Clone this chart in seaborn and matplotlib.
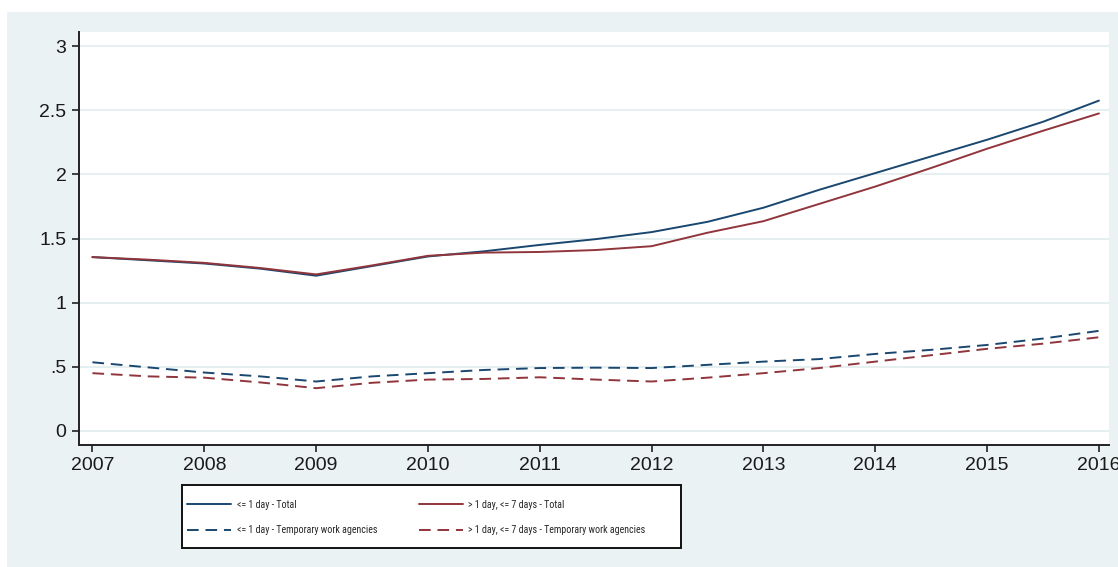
import matplotlib
matplotlib.use("Agg")
import matplotlib.pyplot as plt
from matplotlib import font_manager
from matplotlib.patches import Rectangle
import numpy as np
import pandas as pd
import seaborn as sns

# Half-yearly observation points
period = [2007.0, 2007.5, 2008.0, 2008.5, 2009.0, 2009.5, 2010.0, 2010.5, 2011.0, 2011.5,
          2012.0, 2012.5, 2013.0, 2013.5, 2014.0, 2014.5, 2015.0, 2015.5, 2016.0]

le1_total = [1.355, 1.33, 1.305, 1.265, 1.21, 1.285, 1.36, 1.40, 1.45, 1.495,
             1.55, 1.63, 1.74, 1.88, 2.01, 2.14, 2.27, 2.41, 2.575]
gt1_le7_total = [1.355, 1.335, 1.31, 1.27, 1.22, 1.29, 1.365, 1.39, 1.395, 1.41,
                 1.44, 1.545, 1.635, 1.77, 1.905, 2.05, 2.20, 2.34, 2.475]
le1_twa = [0.535, 0.495, 0.455, 0.425, 0.385, 0.425, 0.45, 0.475, 0.49, 0.493,
           0.49, 0.515, 0.54, 0.56, 0.60, 0.632, 0.67, 0.72, 0.78]
gt1_le7_twa = [0.45, 0.425, 0.415, 0.378, 0.333, 0.375, 0.40, 0.405, 0.418, 0.40,
               0.385, 0.415, 0.45, 0.49, 0.54, 0.59, 0.64, 0.68, 0.73]

series_labels = [
    "<= 1 day - Total",
    "<= 1 day - Temporary work agencies",
    "> 1 day, <= 7 days - Total",
    "> 1 day, <= 7 days - Temporary work agencies",
]
series_values = [le1_total, le1_twa, gt1_le7_total, gt1_le7_twa]

y_ticks = [0, 0.5, 1, 1.5, 2, 2.5, 3]
y_tick_labels = ["0", ".5", "1", "1.5", "2", "2.5", "3"]
x_ticks = list(range(2007, 2017))

NAVY = "#1A476F"
MAROON = "#90353B"
BG = "#EAF2F3"

frames = [pd.DataFrame({"year": period, "value": vals, "series": lab})
          for lab, vals in zip(series_labels, series_values)]
df = pd.concat(frames, ignore_index=True)

palette = {series_labels[0]: NAVY, series_labels[1]: NAVY,
           series_labels[2]: MAROON, series_labels[3]: MAROON}
dashes = {series_labels[0]: "", series_labels[1]: (6, 3.5),
          series_labels[2]: "", series_labels[3]: (6, 3.5)}

sns.set_style("ticks")
plt.rcParams["font.family"] = ["Liberation Sans", "DejaVu Sans"]

# Prefer a condensed face for the legend when one is installed
narrow = None
for f in font_manager.fontManager.ttflist:
    n = f.name.lower()
    if ("narrow" in n or "condensed" in n) and f.weight in (400, "normal", "regular") \
            and f.style == "normal":
        narrow = f.fname
        if "liberation" in n or "arial" in n:
            break
if narrow is not None:
    legend_prop = font_manager.FontProperties(fname=narrow, size=10)
else:
    legend_prop = font_manager.FontProperties(family="Liberation Sans", size=10)

W, H = 1118, 567
fig = plt.figure(figsize=(W / 100, H / 100), dpi=100, facecolor="white")
fig.patches.append(Rectangle((7 / W, 0), 1, (H - 12) / H, transform=fig.transFigure,
                             facecolor=BG, edgecolor="none", zorder=-10))

ax = fig.add_axes([79 / W, (H - 445) / H, (1109 - 79) / W, (445 - 32) / H])
ax.set_facecolor("white")

sns.lineplot(data=df, x="year", y="value", hue="series", style="series",
             hue_order=series_labels, style_order=series_labels,
             palette=palette, dashes=dashes, linewidth=1.4, ax=ax)

ax.set_xlim(2006.88, 2016.09)
ax.set_ylim(-0.11, 3.11)
ax.set_xticks(x_ticks)
ax.set_xticklabels([str(t) for t in x_ticks])
ax.set_yticks(y_ticks)
ax.set_yticklabels(y_tick_labels)
ax.set_xlabel("")
ax.set_ylabel("")

ax.grid(axis="y", color="#E4EEEF", linewidth=1.3)
ax.set_axisbelow(True)
for side in ("top", "right"):
    ax.spines[side].set_visible(False)
for side in ("left", "bottom"):
    ax.spines[side].set_color("#222222")
    ax.spines[side].set_linewidth(1.4)
ax.tick_params(axis="both", direction="out", length=5, width=1.2, color="#222222",
               labelsize=14, labelcolor="#1a1a1a", pad=4)

handles, labels = ax.get_legend_handles_labels()
ax.get_legend().remove()

# Size the legend font so the longest left-column label spans about 140 px
renderer = fig.canvas.get_renderer()
probe = fig.text(0, 0, series_labels[1], fontproperties=legend_prop)
w10 = probe.get_window_extent(renderer).width
probe.remove()
legend_prop.set_size(10 * 140 / w10)
fs_px = legend_prop.get_size_in_points() * 100 / 72

# Legend frame
fig.patches.append(Rectangle((182 / W, (H - 548) / H), (681 - 182) / W, (548 - 485) / H,
                             transform=fig.transFigure, facecolor="white",
                             edgecolor="#111111", linewidth=1.4, zorder=5))

handle_px, textpad_px = 44, 6
col_gap_px = 418 - (187 + handle_px + textpad_px + 140)
row_pitch_px = 27
leg = fig.legend(handles, labels, ncol=2, loc="center left",
                 bbox_to_anchor=(187 / W, (H - 517.5) / H), frameon=False,
                 borderpad=0, borderaxespad=0,
                 handlelength=handle_px / fs_px, handletextpad=textpad_px / fs_px,
                 columnspacing=col_gap_px / fs_px,
                 labelspacing=(row_pitch_px - 1.2 * fs_px) / fs_px, prop=legend_prop)
leg.set_zorder(6)

fig.savefig("out.png", dpi=100, facecolor="white")
